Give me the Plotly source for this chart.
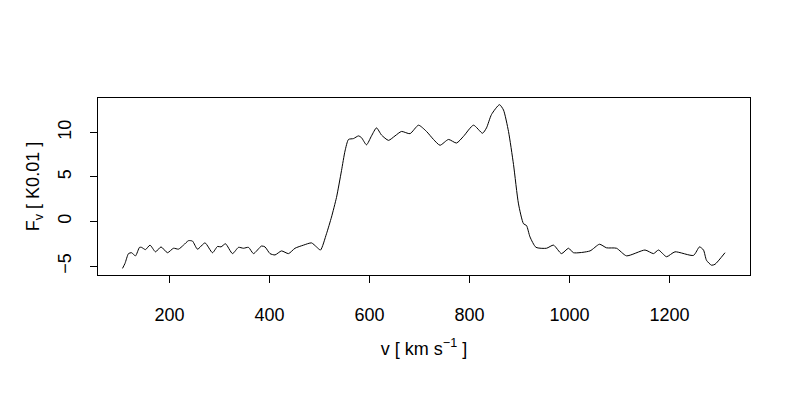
import plotly.graph_objects as go

velocity = [106, 111, 118, 124, 132, 140, 144, 152, 161, 172, 183, 196, 208, 218, 228, 238, 246, 256,
            271, 286, 296, 303, 312, 326, 338, 348, 358, 368, 384, 391, 401, 411, 424, 438, 451, 468,
            484, 494, 502, 514, 524, 534, 544, 551, 558, 568, 578, 584, 594, 604, 614, 624, 638, 651,
            664, 681, 698, 714, 728, 741, 758, 774, 788, 808, 826, 834, 844, 860, 868, 878, 888, 898,
            908, 914, 921, 933, 954, 968, 984, 998, 1008, 1041, 1060, 1074, 1094, 1114, 1151, 1168,
            1178, 1194, 1211, 1248, 1260, 1268, 1274, 1284, 1291, 1311]
flux = [-5.26, -4.7, -3.6, -3.5, -3.85, -2.9, -2.9, -3.15, -2.65, -3.4, -2.85, -3.5, -3.0, -3.1, -2.65,
        -2.15, -2.2, -3.1, -2.4, -3.5, -2.8, -2.85, -2.5, -3.6, -2.9, -3.0, -2.9, -3.6, -2.75, -2.85,
        -3.6, -3.75, -3.3, -3.6, -3.0, -2.65, -2.4, -2.85, -3.2, -1.37, 0.5, 2.7, 5.7, 7.9, 9.2, 9.3,
        9.6, 9.4, 8.6, 9.6, 10.5, 9.7, 9.1, 9.6, 10.1, 9.85, 10.8, 10.1, 9.2, 8.55, 9.2, 8.8, 9.55,
        10.8, 9.9, 10.5, 12.0, 13.1, 12.5, 10.1, 6.4, 1.97, -0.25, -0.45, -1.73, -2.9, -3.0, -2.65,
        -3.6, -3.0, -3.5, -3.3, -2.55, -2.95, -3.0, -3.85, -3.2, -3.6, -3.2, -3.95, -3.4, -3.8, -2.85,
        -3.2, -4.35, -4.9, -4.8, -3.5]
x_ticks = [200, 400, 600, 800, 1000, 1200]
y_ticks = [-5, 0, 5, 10]

fig = go.Figure(go.Scatter(x=velocity, y=flux, mode="lines",
                           line=dict(color="black", width=1, shape="spline", smoothing=0.6),
                           showlegend=False))

font = dict(family="Liberation Sans, Arial, sans-serif", size=18, color="black")
fig.update_layout(
    width=800, height=400,
    margin=dict(l=90, r=58, t=90, b=133, autoexpand=False),
    paper_bgcolor="white", plot_bgcolor="white",
    font=font,
)
fig.update_xaxes(range=[57, 1361], tickvals=x_ticks, ticks="outside", ticklen=7, tickcolor="black",
                 showline=True, linecolor="black", linewidth=1, mirror=True, showgrid=False,
                 zeroline=False, ticklabelstandoff=16, automargin=False, tickfont=font,
                 title=dict(text="v [ km s<sup>−1</sup> ]", standoff=18, font=font))
fig.update_yaxes(range=[-6.0, 13.85], tickvals=y_ticks, ticks="outside", ticklen=7, tickcolor="black",
                 showline=True, linecolor="black", linewidth=1, mirror=True, showgrid=False,
                 zeroline=False, tickangle=-90, ticklabelstandoff=12, automargin=False, tickfont=font,
                 title=dict(text="F<sub>v</sub> [ K0.01 ]", standoff=10, font=font))

fig.write_html("out.html")
